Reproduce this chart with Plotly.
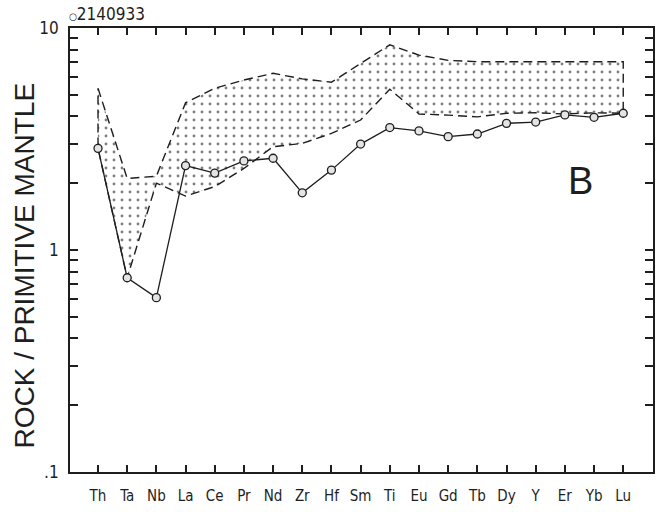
import plotly.graph_objects as go

elements = ["Th", "Ta", "Nb", "La", "Ce", "Pr", "Nd", "Zr", "Hf", "Sm",
            "Ti", "Eu", "Gd", "Tb", "Dy", "Y", "Er", "Yb", "Lu"]

sample_name = "2140933"
sample_vals = [2.87, 0.75, 0.61, 2.40, 2.22, 2.52, 2.59, 1.81, 2.29, 3.00,
               3.56, 3.44, 3.24, 3.33, 3.72, 3.77, 4.06, 3.96, 4.13]

env_upper = [5.35, 2.10, 2.15, 4.60, 5.35, 5.83, 6.25, 5.90, 5.70, 6.90,
             8.40, 7.55, 7.15, 7.05, 7.05, 7.05, 7.05, 7.05, 7.05]
env_lower = [2.87, 0.75, 2.00, 1.75, 1.93, 2.33, 2.92, 3.02, 3.35, 3.85,
             5.30, 4.10, 4.05, 3.98, 4.13, 4.15, 4.10, 4.15, 4.13]

ytick_major = [0.1, 1, 10]
ytick_major_text = [".1", "1", "10"]
ytick_minor = [0.2, 0.3, 0.4, 0.5, 0.6, 0.7, 0.8, 0.9,
               2, 3, 4, 5, 6, 7, 8, 9]

panel_label = "B"
ytitle = "ROCK / PRIMITIVE MANTLE"

narrow = "DejaVu Sans Condensed, Liberation Sans Narrow, sans-serif"
sans = "Liberation Sans, Arial, sans-serif"
ink = "#1e1e1e"

xi = list(range(len(elements)))
ytick_all = sorted(ytick_major + ytick_minor)
ytext_all = [ytick_major_text[ytick_major.index(v)] if v in ytick_major else ""
             for v in ytick_all]

fig = go.Figure()

# envelope polygon (upper then reversed lower)
poly_x = xi + xi[::-1] + [xi[0]]
poly_y = env_upper + env_lower[::-1] + [env_upper[0]]
fig.add_trace(go.Scatter(
    x=poly_x, y=poly_y, mode="lines", fill="toself",
    fillcolor="white",
    fillpattern=dict(shape=".", size=8, solidity=0.1, fgcolor="black", bgcolor="white"),
    line=dict(color=ink, width=1.4, dash="9px,5px"),
    hoverinfo="skip", showlegend=False,
))

fig.add_trace(go.Scatter(
    x=xi, y=sample_vals, mode="lines+markers",
    line=dict(color=ink, width=1.3),
    marker=dict(symbol="circle", size=8, color="#e4e4e4",
                line=dict(color=ink, width=1.3)),
    name=sample_name, showlegend=False,
))

fig.update_layout(
    width=659, height=512,
    margin=dict(l=70, r=4, t=28, b=40),
    paper_bgcolor="white", plot_bgcolor="white",
    showlegend=False,
)

fig.update_xaxes(
    range=[-0.96, 19.02],
    tickmode="array", tickvals=xi, ticktext=elements,
    ticks="inside", ticklen=7, tickwidth=1.5, tickcolor=ink,
    showline=True, linecolor=ink, linewidth=1.8, mirror="ticks",
    showgrid=False, zeroline=False,
    tickfont=dict(family=narrow, size=15, color=ink),
    ticklabelstandoff=9,
)

fig.update_yaxes(
    type="log", range=[-1, 1],
    tickmode="array", tickvals=ytick_all, ticktext=ytext_all,
    ticks="inside", ticklen=8, tickwidth=1.5, tickcolor=ink,
    showline=True, linecolor=ink, linewidth=1.8, mirror="ticks",
    showgrid=False, zeroline=False,
    tickfont=dict(family=narrow, size=17, color=ink),
    ticklabelstandoff=6,
)

# longer major tick at 1 on both sides (shape y on a log axis is log10 of the value)
for xs in ((0, 16 / 585), (1 - 16 / 585, 1)):
    fig.add_shape(type="line", xref="paper", yref="y",
                  x0=xs[0], x1=xs[1], y0=0, y1=0,
                  line=dict(color=ink, width=1.5))

# y axis title
fig.add_annotation(
    text=ytitle, xref="paper", yref="paper",
    x=-0.078, y=0.464, xanchor="center", yanchor="middle",
    textangle=-90, showarrow=False,
    font=dict(family=sans, size=28, color=ink),
)

# panel label
fig.add_annotation(
    text=panel_label, xref="paper", yref="paper",
    x=0.875, y=0.655, xanchor="center", yanchor="middle",
    showarrow=False,
    font=dict(family=sans, size=38, color=ink),
)

# sample key
fig.add_annotation(
    text="<span style='font-size:10px'>○</span>" + sample_name,
    xref="paper", yref="paper",
    x=-0.005, y=1.0, xanchor="left", yanchor="bottom", yshift=2,
    showarrow=False,
    font=dict(family=narrow, size=17, color=ink),
)

fig.write_html("out.html")
